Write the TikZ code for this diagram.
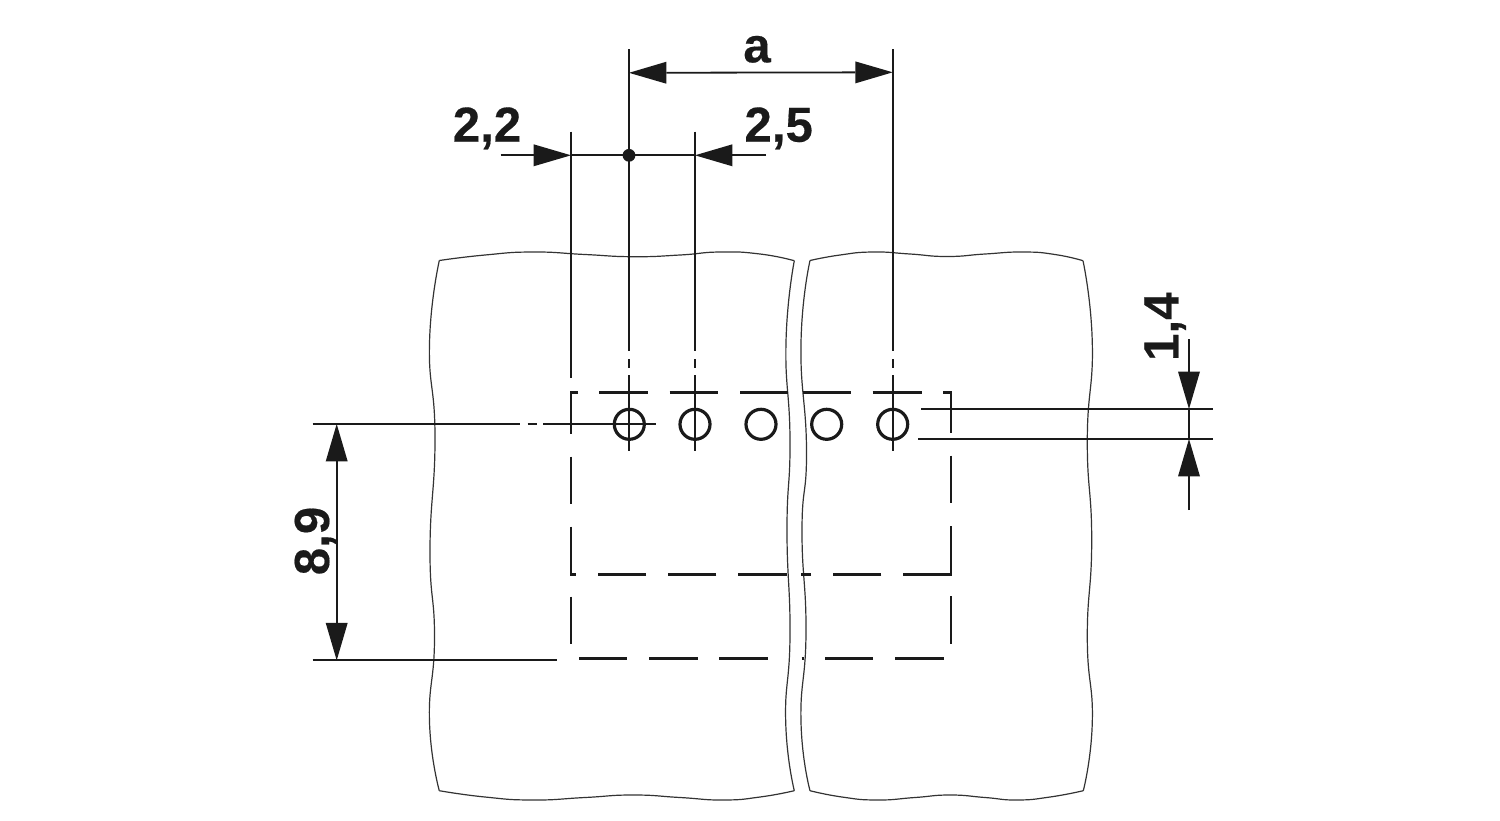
\documentclass[tikz,border=0pt]{standalone}
\usepackage{fontspec}
\setmainfont{Liberation Sans}
\newfontfamily\dimfont{Liberation Sans}[BoldFeatures={FakeBold=0.35}]
\usetikzlibrary{arrows.meta}
\definecolor{ink}{HTML}{1A1A1A}
\definecolor{edgeink}{HTML}{333333}
\tikzset{
  panel/.style={draw=edgeink,line width=0.6pt,line join=miter},
  hidden/.style={draw=ink,line width=1.25pt},
  dimline/.style={draw=ink,line width=0.9pt},
  hole/.style={draw=ink,line width=1.6pt},
  dimtip/.style={-{Triangle[length=18.7pt,width=11pt,line width=0pt]}},
  dimboth/.style={{Triangle[length=18.7pt,width=11pt,line width=0pt]}-{Triangle[length=18.7pt,width=11pt,line width=0pt]}},
  dimlabel/.style={font=\dimfont\fontsize{24.6}{24.6}\selectfont\bfseries,text=ink,inner sep=0pt,anchor=base}
}
\newcommand{\wavy}[1]{plot[smooth,tension=0.9] coordinates {#1}}
\begin{document}
\begin{tikzpicture}[x=0.5pt,y=-0.5pt]
\useasboundingbox (0,0) rectangle (1500,820);
% left panel
\draw[panel] \wavy{(439.3,260.5)(485,255)(533,252)(585,254.5)(633,256.7)(680,255)(720,252)(760,254)(794.3,260.7)};
\draw[panel] \wavy{(794.3,260.7)(786,342)(790,440)(787,530)(790,635)(785.7,722)(794.3,790.7)};
\draw[panel] \wavy{(794.3,790.7)(760,797)(723,800)(680,797.5)(633,795)(585,797.5)(533,800)(485,797)(439.3,790.7)};
\draw[panel] \wavy{(439.3,790.7)(429.5,722)(434.5,638)(430,550)(435,437)(429.5,343)(439.3,260.5)};
% right panel
\draw[panel] \wavy{(810,260.5)(840,255)(873,252)(910,254)(947,256.5)(985,254)(1023,252)(1055,254.5)(1083,260.7)};
\draw[panel] \wavy{(1083,260.7)(1092.3,343)(1087.3,440)(1091.7,540)(1087.3,638)(1092.3,722)(1083.3,790.7)};
\draw[panel] \wavy{(1083.3,790.7)(1050,797)(1017,800)(985,797.5)(950,795)(915,797.5)(877,800)(842,797)(810,790.7)};
\draw[panel] \wavy{(810,790.7)(801,722)(806,632)(802,530)(806.5,450)(801,343)(810,260.5)};
% hidden outline, upper
\draw[hidden] (578,392.7) -- (571,392.7) -- (571,434);
\draw[hidden] (571,456.7) -- (571,504.3);
\draw[hidden] (571,526.7) -- (571,574.3) -- (575.7,574.3);
\draw[hidden] (599.3,392.7) -- (648,392.7);
\draw[hidden] (669.7,392.7) -- (718,392.7);
\draw[hidden] (740,392.7) -- (788.3,392.7);
\draw[hidden] (802.7,392.7) -- (851.3,392.7);
\draw[hidden] (872.7,392.7) -- (921.7,392.7);
\draw[hidden] (943.3,392.7) -- (951,392.7) -- (951,433.3);
\draw[hidden] (951,455.7) -- (951,503.3);
\draw[hidden] (951,526) -- (951,574.3) -- (903.3,574.3);
\draw[hidden] (881.3,574.3) -- (833.3,574.3);
\draw[hidden] (811,574.3) -- (801,574.3);
\draw[hidden] (786.7,574.3) -- (738.3,574.3);
\draw[hidden] (716.3,574.3) -- (667.7,574.3);
\draw[hidden] (646,574.3) -- (597.7,574.3);
% hidden outline, lower
\draw[hidden] (571,596.7) -- (571,644.3);
\draw[hidden] (951,596) -- (951,644);
\draw[hidden] (579,658.7) -- (627.3,658.7);
\draw[hidden] (649,658.7) -- (697.7,658.7);
\draw[hidden] (719.3,658.7) -- (768,658.7);
\draw[hidden] (801.5,658.7) -- (803.5,658.7);
\draw[hidden] (825,658.7) -- (873.3,658.7);
\draw[hidden] (895,658.7) -- (944,658.7);
% holes
\foreach \n/\x in {a/629.3,b/695,c/761,d/826.7,e/892.7}
  \draw[hole] (\x,424.3) circle[radius=15];
% extension and centre lines
\draw[dimline] (571,131.7) -- (571,378.3);
\foreach \x/\t in {629/49.3,695/131.7,892.7/49.3}{
  \draw[dimline] (\x,\t) -- (\x,350.7);
  \draw[dimline] (\x,359.3) -- (\x,367.7);
  \draw[dimline] (\x,375) -- (\x,450.7);
}
\draw[dimline] (312.7,424) -- (520,424);
\draw[dimline] (527.7,424) -- (536.7,424);
\draw[dimline] (543.3,424) -- (655.7,424);
\draw[dimline] (312.7,660.3) -- (557.3,660.3);
\draw[dimline] (921,409) -- (1213.3,409);
\draw[dimline] (918,439) -- (1213.3,439);
% dimension a
\coordinate (aL) at (629,72.8);
\coordinate (aR) at (892.7,72.3);
\draw[dimline,dimboth] (aL) -- (aR);
% dimensions 2,2 and 2,5
\coordinate (pL) at (500.7,155.3);
\coordinate (tL) at (571,155.3);
\coordinate (pR) at (766,155.3);
\coordinate (tR) at (695,155.3);
\coordinate (pM) at (629,155.3);
\draw[dimline] (tL) -- (tR);
\draw[dimline,dimtip] (pL) -- (tL);
\draw[dimline,dimtip] (pR) -- (tR);
\fill[ink] (pM) circle[radius=6.4];
% dimension 8,9
\coordinate (nT) at (336.7,424);
\coordinate (nB) at (336.7,660.3);
\draw[dimline,dimboth] (nT) -- (nB);
% dimension 1,4
\coordinate (oT) at (1189,339);
\coordinate (oA) at (1189,409);
\coordinate (oB) at (1189,439);
\coordinate (oE) at (1189,510);
\draw[dimline] (oA) -- (oB);
\draw[dimline,dimtip] (oT) -- (oA);
\draw[dimline,dimtip] (oE) -- (oB);
% labels
\node[dimlabel] (la) at (757,62.3) {a};
\node[dimlabel] (l22) at (487,141.7) {2,2};
\node[dimlabel] (l25) at (778.7,141.7) {2,5};
\node[dimlabel,rotate=90] (l89) at (329,541) {8,9};
\node[dimlabel,rotate=90] (l14) at (1178.3,326.7) {1,4};
\end{tikzpicture}
\end{document}
